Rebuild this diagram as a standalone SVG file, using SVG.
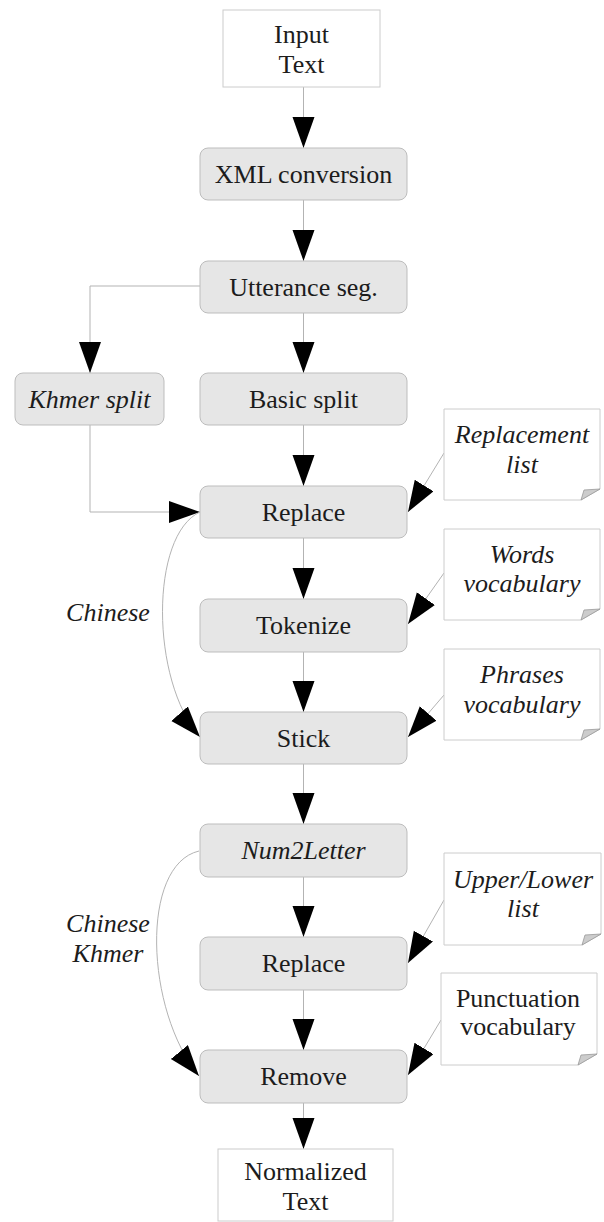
<svg xmlns="http://www.w3.org/2000/svg" width="604" height="1222" viewBox="0 0 604 1222">
<style>
.proc{fill:#e6e6e6;stroke:#bdbdbd;stroke-width:1}
.io{fill:#ffffff;stroke:#cccccc;stroke-width:1}
.note{fill:#ffffff;stroke:#cccccc;stroke-width:1}
.fold{fill:#cccccc;stroke:#999999;stroke-width:0.8}
.t{font-family:"Liberation Serif",serif;font-size:26px;fill:#1c1c1c;text-anchor:middle}
.i{font-style:italic}
.c{fill:none;stroke:#b3b3b3;stroke-width:1}
</style>
<defs>
<marker id="ah" markerUnits="userSpaceOnUse" markerWidth="32" markerHeight="24" refX="31" refY="11" orient="auto">
<path d="M0,0 L31,11 L0,22 Z" fill="#000"/>
</marker>
</defs>
<g id="connectors">
<path class="c" d="M303.5,87 V148" marker-end="url(#ah)"/>
<path class="c" d="M303.5,200 V261" marker-end="url(#ah)"/>
<path class="c" d="M200,286 H90 V373" marker-end="url(#ah)"/>
<path class="c" d="M303.5,313 V373" marker-end="url(#ah)"/>
<path class="c" d="M90,425 V512 H200" marker-end="url(#ah)"/>
<path class="c" d="M303.5,425 V486" marker-end="url(#ah)"/>
<path class="c" d="M303.5,538 V599" marker-end="url(#ah)"/>
<path class="c" d="M303.5,652 V712" marker-end="url(#ah)"/>
<path class="c" d="M303.5,764 V824" marker-end="url(#ah)"/>
<path class="c" d="M303.5,877 V937" marker-end="url(#ah)"/>
<path class="c" d="M303.5,990 V1050" marker-end="url(#ah)"/>
<path class="c" d="M303.5,1103 V1149" marker-end="url(#ah)"/>
<path class="c" d="M200,512 C150,535 150,680 200,737" marker-end="url(#ah)"/>
<path class="c" d="M199,851 C140,865 145,1010 199,1076" marker-end="url(#ah)"/>
<path class="c" d="M444,453 L408,512" marker-end="url(#ah)"/>
<path class="c" d="M444,573 L408,624" marker-end="url(#ah)"/>
<path class="c" d="M444,695 L408,737" marker-end="url(#ah)"/>
<path class="c" d="M444,900 L408,963" marker-end="url(#ah)"/>
<path class="c" d="M441,1020 L408,1075" marker-end="url(#ah)"/>
<text class="t i" x="108" y="621">Chinese</text>
<text class="t i" x="108" y="932">Chinese</text>
<text class="t i" x="108" y="962">Khmer</text>
</g>
<g id="input">
<rect class="io" x="223" y="10" width="157" height="77"/>
<text class="t" x="301.5" y="43">Input</text>
<text class="t" x="301.5" y="73">Text</text>
</g>
<g id="xml">
<rect class="proc" x="200" y="148" width="207" height="52" rx="8"/>
<text class="t" x="303.5" y="183">XML conversion</text>
</g>
<g id="utterance">
<rect class="proc" x="200" y="261" width="207" height="52" rx="8"/>
<text class="t" x="303.5" y="296">Utterance seg.</text>
</g>
<g id="khmer">
<rect class="proc" x="15" y="373" width="149" height="52" rx="8"/>
<text class="t i" x="89.5" y="408">Khmer split</text>
</g>
<g id="basic">
<rect class="proc" x="200" y="373" width="207" height="52" rx="8"/>
<text class="t" x="303.5" y="408">Basic split</text>
</g>
<g id="replace1">
<rect class="proc" x="200" y="486" width="207" height="52" rx="8"/>
<text class="t" x="303.5" y="521">Replace</text>
</g>
<g id="tokenize">
<rect class="proc" x="200" y="599" width="207" height="53" rx="8"/>
<text class="t" x="303.5" y="634">Tokenize</text>
</g>
<g id="stick">
<rect class="proc" x="200" y="712" width="207" height="52" rx="8"/>
<text class="t" x="303.5" y="747">Stick</text>
</g>
<g id="num2letter">
<rect class="proc" x="200" y="824" width="207" height="53" rx="8"/>
<text class="t i" x="303.5" y="859">Num2Letter</text>
</g>
<g id="replace2">
<rect class="proc" x="200" y="937" width="207" height="53" rx="8"/>
<text class="t" x="303.5" y="972">Replace</text>
</g>
<g id="remove">
<rect class="proc" x="200" y="1050" width="207" height="53" rx="8"/>
<text class="t" x="303.5" y="1085">Remove</text>
</g>
<g id="output">
<rect class="io" x="218" y="1149" width="175" height="72"/>
<text class="t" x="305.5" y="1180">Normalized</text>
<text class="t" x="305.5" y="1210">Text</text>
</g>
<g id="note-replacement">
<path class="note" d="M444,409 H600 V489 L581,500 H444 Z"/>
<path class="fold" d="M600,489 L584,490 L581,500 Z"/>
<text class="t i" x="522" y="443">Replacement</text>
<text class="t i" x="522" y="473">list</text>
</g>
<g id="note-words">
<path class="note" d="M444,529 H600 V609 L581,620 H444 Z"/>
<path class="fold" d="M600,609 L584,610 L581,620 Z"/>
<text class="t i" x="522" y="563">Words</text>
<text class="t i" x="522" y="592">vocabulary</text>
</g>
<g id="note-phrases">
<path class="note" d="M444,649 H600 V729 L581,740 H444 Z"/>
<path class="fold" d="M600,729 L584,730 L581,740 Z"/>
<text class="t i" x="522" y="683">Phrases</text>
<text class="t i" x="522" y="713">vocabulary</text>
</g>
<g id="note-upperlower">
<path class="note" d="M444,853 H601 V934 L582,945 H444 Z"/>
<path class="fold" d="M601,934 L585,935 L582,945 Z"/>
<text class="t i" x="523" y="888">Upper/Lower</text>
<text class="t i" x="523" y="917">list</text>
</g>
<g id="note-punctuation">
<path class="note" d="M441,973 H597 V1054 L578,1065 H441 Z"/>
<path class="fold" d="M597,1054 L581,1055 L578,1065 Z"/>
<text class="t" x="518" y="1007">Punctuation</text>
<text class="t" x="518" y="1035">vocabulary</text>
</g>
</svg>
